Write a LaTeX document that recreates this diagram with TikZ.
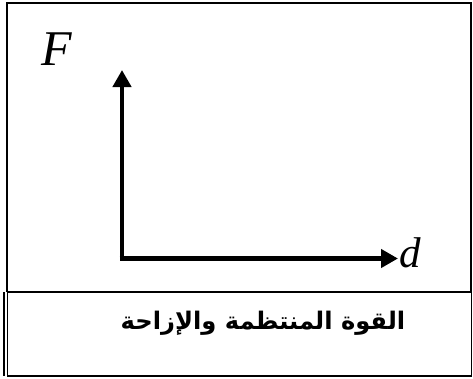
\documentclass[tikz,border=0pt]{standalone}
\usepackage{fontspec}
\setmainfont{Liberation Serif}
\newfontfamily\arabicfont[Script=Arabic]{DejaVu Sans}
\TeXXeTstate=1
\usetikzlibrary{arrows.meta}
\tikzset{
  frame/.style={draw=black, line width=1.8pt},
  axis/.style={line width=4.6pt, -{Triangle[length=17pt,width=18pt]}},
  lab/.style={inner sep=0pt}
}
\begin{document}
\begin{tikzpicture}[x=1pt,y=-1pt]
\useasboundingbox (0,0) rectangle (473,378);
% upper frame
\draw[frame] (7,292) -- (7,3) -- (471,3) -- (471,292);
% lower box
\node[frame, minimum width=464pt, minimum height=84pt, inner sep=0pt] (box) at (239.5,334) {};
\draw[line width=1.6pt] (4,292) -- (4,376);
% axes
\coordinate (o) at (122,258.5);
\coordinate (ytop) at (122,70);
\coordinate (xend) at (398,258.5);
\draw[axis] (o) -- (ytop);
\draw[axis] ([xshift=-2.3pt]o) -- (xend);
\node[lab, font=\fontsize{50}{50}\selectfont\itshape, anchor=base west] (F) at (41,65) {F};
\node[lab, font=\fontsize{43}{43}\selectfont\itshape, anchor=base west] (d) at (399,267) {d};
\node[font=\arabicfont\bfseries\fontsize{24.2}{24.2}\selectfont, anchor=base] (t) at (263,329) {\beginR القوة المنتظمة والإزاحة\endR};
\end{tikzpicture}
\end{document}
